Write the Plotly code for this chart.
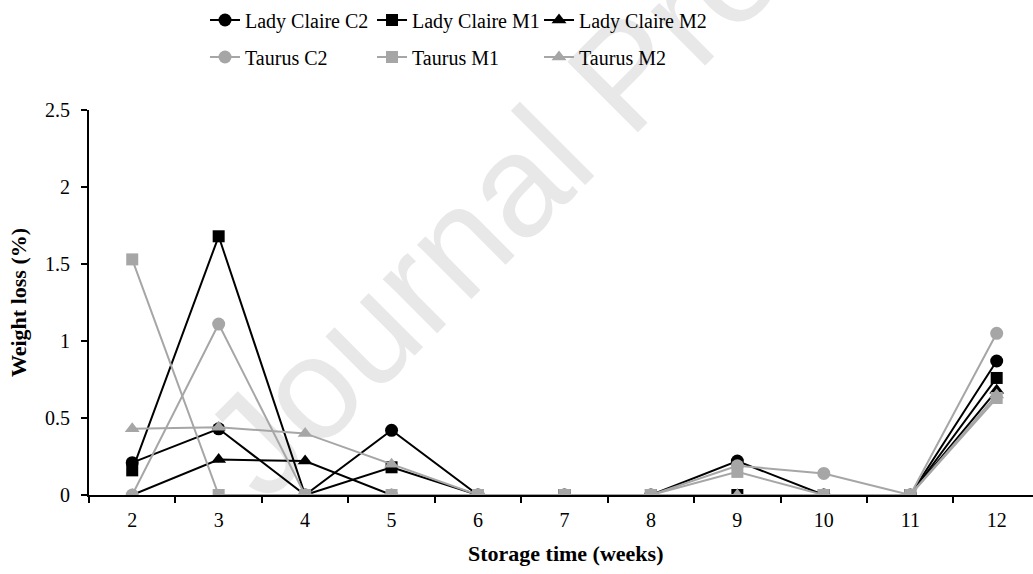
import plotly.graph_objects as go

# Storage time categories (weeks)
weeks = ["2", "3", "4", "5", "6", "7", "8", "9", "10", "11", "12"]

# Weight loss (%) per storage week
lady_claire_c2 = [0.21, 0.43, 0.00, 0.42, 0.00, 0.00, 0.00, 0.22, 0.00, 0.00, 0.87]
lady_claire_m1 = [0.16, 1.68, 0.00, 0.18, 0.00, 0.00, 0.00, 0.00, 0.00, 0.00, 0.76]
lady_claire_m2 = [0.00, 0.23, 0.22, 0.00, 0.00, 0.00, 0.00, 0.00, 0.00, 0.00, 0.68]
taurus_c2 = [0.00, 1.11, 0.00, 0.00, 0.00, 0.00, 0.00, 0.19, 0.14, 0.00, 1.05]
taurus_m1 = [1.53, 0.00, 0.00, 0.00, 0.00, 0.00, 0.00, 0.15, 0.00, 0.00, 0.63]
taurus_m2 = [0.43, 0.44, 0.40, 0.20, 0.00, 0.00, 0.00, 0.00, 0.00, 0.00, 0.65]

y_ticks = [0, 0.5, 1, 1.5, 2, 2.5]
y_tick_text = ["0", "0.5", "1", "1.5", "2", "2.5"]

BLACK = "#000000"
GREY = "#A6A6A6"
SERIF = "'Times New Roman', 'Liberation Serif', 'DejaVu Serif', serif"

series = [
    ("Lady Claire C2", lady_claire_c2, BLACK, "circle", 13, "legend"),
    ("Lady Claire M1", lady_claire_m1, BLACK, "square", 12, "legend"),
    ("Lady Claire M2", lady_claire_m2, BLACK, "triangle-up", 13, "legend"),
    ("Taurus C2", taurus_c2, GREY, "circle", 13, "legend2"),
    ("Taurus M1", taurus_m1, GREY, "square", 12, "legend2"),
    ("Taurus M2", taurus_m2, GREY, "triangle-up", 13, "legend2"),
]

fig = go.Figure()
for name, values, color, symbol, size, legend in series:
    fig.add_trace(go.Scatter(
        x=weeks, y=values, name=name, mode="lines+markers",
        line=dict(color=color, width=2),
        marker=dict(symbol=symbol, size=size, color=color,
                    line=dict(color=color, width=0)),
        legend=legend,
    ))

legend_common = dict(
    orientation="h", xanchor="left", yanchor="middle",
    font=dict(family=SERIF, size=20, color="black"),
    entrywidthmode="pixels", entrywidth=122,
    bgcolor="rgba(0,0,0,0)", itemwidth=30,
    tracegroupgap=0,
)

fig.update_layout(
    width=1033, height=574,
    margin=dict(l=89, r=0, t=110, b=79),
    paper_bgcolor="white", plot_bgcolor="white",
    showlegend=True,
    legend=dict(x=0.1229, y=1.2338, **legend_common),
    legend2=dict(x=0.1229, y=1.1377, **legend_common),
    xaxis=dict(
        type="category", categoryorder="array", categoryarray=weeks,
        range=[-0.5, 10.42],
        showline=True, linecolor="black", linewidth=2,
        ticks="outside", tickson="boundaries", ticklen=6, tickwidth=2,
        tickcolor="black", showgrid=False, zeroline=False,
        ticklabelstandoff=6,
        tickfont=dict(family=SERIF, size=20, color="black"),
    ),
    yaxis=dict(
        range=[0, 2.5], tickmode="array", tickvals=y_ticks, ticktext=y_tick_text,
        showline=True, linecolor="black", linewidth=2,
        ticks="outside", ticklen=6, tickwidth=2, tickcolor="black",
        showgrid=False, zeroline=False,
        ticklabelstandoff=7,
        tickfont=dict(family=SERIF, size=20, color="black"),
        title=dict(text="<b>Weight loss (%)</b>", standoff=12,
                   font=dict(family=SERIF, size=22, color="black")),
    ),
    # x-axis title centred on the full category span (which runs past the right edge)
    annotations=[dict(
        text="<b>Storage time (weeks)</b>", xref="paper", yref="paper",
        x=0.505, y=-0.151, xanchor="center", yanchor="middle", showarrow=False,
        font=dict(family=SERIF, size=22, color="black"),
    )],
    shapes=[dict(
        type="rect", xref="paper", yref="paper", layer="below",
        x0=0.406, x1=0.426, y0=0.761, y1=0.781,
        line=dict(width=0), fillcolor="rgba(0,0,0,0)",
        label=dict(text="Journal Pre", textangle=-45,
                   textposition="middle center",
                   font=dict(family="Liberation Sans", size=145, color="#E8E8E8")),
    )],
)

fig.write_html("out.html")
